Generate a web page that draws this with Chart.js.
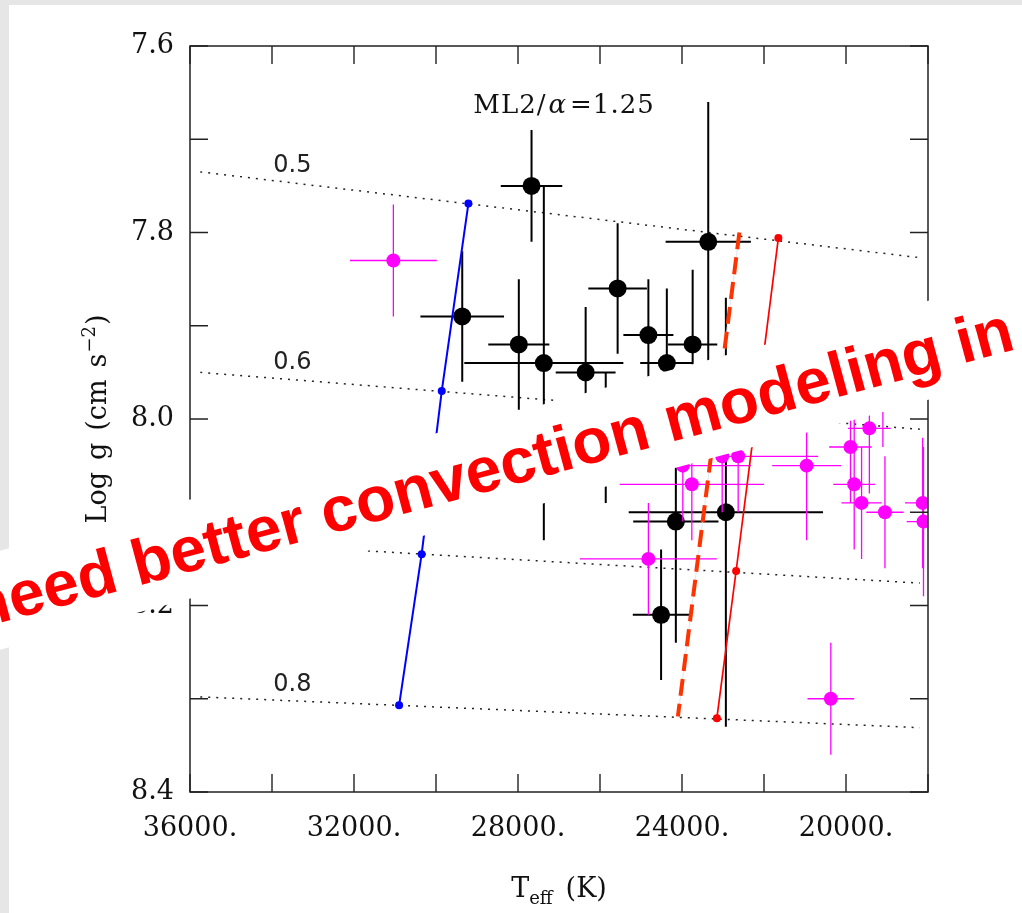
<!DOCTYPE html>
<html>
<head>
<meta charset="utf-8">
<title>Log g vs Teff</title>
<script src="https://cdn.jsdelivr.net/npm/chart.js@4.4.0/dist/chart.umd.min.js"></script>
<style>
  html, body { margin: 0; padding: 0; background: #e6e6e6; overflow: hidden; }
  #page { position: absolute; left: 9px; top: 5px; right: 0; bottom: 0; background: #ffffff; }
  #wrap { position: absolute; left: 0; top: 0; width: 1022px; height: 913px; }
  canvas { display: block; }
</style>
</head>
<body>
<div id="page"></div>
<div id="wrap"><canvas id="c" width="1022" height="913"></canvas></div>
<script>
// ---------- axis ticks ----------
const xTickValues = [36000, 32000, 28000, 24000, 20000];
const xTickLabels = ['36000.', '32000.', '28000.', '24000.', '20000.'];
const yTickValues = [7.6, 7.8, 8.0, 8.2, 8.4];
const yTickLabels = ['7.6', '7.8', '8.0', '8.2', '8.4'];

// ---------- observed stars (black) ----------
const blackTeff    = [27670, 29360, 27980, 27370, 26350, 25860, 25570, 24820, 24370, 23740, 23360, 24150, 22930, 24510];
const blackTeffErr = [750, 1020, 745, 1940, 730, 750, 715, 610, 650, 600, 1040, 1040, 2370, 690];
const blackLogg    = [7.75, 7.89, 7.92, 7.94, 7.95, 8.02, 7.86, 7.91, 7.94, 7.92, 7.81, 8.11, 8.10, 8.21];
const blackLoggErr = [0.06, 0.07, 0.07, 0.19, 0.07, 0.07, 0.07, 0.06, 0.08, 0.08, 0.15, 0.13, 0.23, 0.07];

// ---------- comparison stars (magenta) ----------
const magTeff    = [31040, 24820, 23760, 23980, 23020, 22630, 20960, 19890, 19430, 19800, 19620, 19050, 18130, 18110, 20370, 19100];
const magTeffErr = [1060, 1670, 1760, 1660, 1100, 1950, 840, 520, 520, 510, 490, 455, 430, 410, 570, 500];
const magLogg    = [7.83, 8.15, 8.07, 8.05, 8.04, 8.04, 8.05, 8.03, 8.01, 8.07, 8.09, 8.10, 8.09, 8.11, 8.30, 7.97];
const magLoggErr = [0.06, 0.06, 0.06, 0.06, 0.06, 0.06, 0.08, 0.06, 0.07, 0.07, 0.06, 0.06, 0.07, 0.08, 0.06, 0.06];

// ---------- instability strip edges ----------
const blueEdgeTeff = [29210, 29860, 30350, 30900];
const blueEdgeLogg = [7.769, 7.970, 8.145, 8.307];
const redEdgeTeff  = [21650, 22200, 22680, 23150];
const redEdgeLogg  = [7.806, 7.997, 8.163, 8.321];
const dashEdgeTeff = [22600, 24100];
const dashEdgeLogg = [7.800, 8.319];

// ---------- constant-mass tracks ----------
const trackMasses = ['0.5', '0.6', '0.7', '0.8'];
const trackTeff   = [35750, 18200];
const track05Logg = [7.735, 7.827];
const track06Logg = [7.950, 8.011];
const track07Logg = [8.131, 8.176];
const track08Logg = [8.298, 8.331];
const trackLabelTeff = 33970;

// ---------- text ----------
const modelNote = ['ML2/', 'α', '=1.25'];
const xTitle = ['T', 'eff', '(K)'];
const yTitle = ['Log', 'g', '(cm', 's', '−2', ')'];
const bannerText = 'need better convection modeling in';

// ---------- helpers ----------
const pts = (xs, ys) => xs.map((x, i) => ({ x: x, y: ys[i] }));
const SERIF = '"DejaVu Serif", "Liberation Serif", serif';
const SANS = '"DejaVu Sans", "Liberation Sans", sans-serif';

const trackSets = [track05Logg, track06Logg, track07Logg, track08Logg].map((lg, i) => ({
  label: 'M = ' + trackMasses[i],
  data: pts(trackTeff, lg),
  showLine: true,
  borderColor: '#222',
  borderWidth: 1.5,
  borderDash: [2, 6],
  pointRadius: 0,
  order: 10
}));

const datasets = [
  ...trackSets,
  {
    label: 'ZZ Ceti sample',
    data: pts(blackTeff, blackLogg),
    teffErr: blackTeffErr, loggErr: blackLoggErr, barColor: '#000', barWidth: 2,
    pointRadius: 9, pointBackgroundColor: '#000', pointBorderWidth: 0,
    showLine: false, order: 6
  },
  {
    label: 'Comparison stars',
    data: pts(magTeff, magLogg),
    teffErr: magTeffErr, loggErr: magLoggErr, barColor: '#ff00ff', barWidth: 1.3,
    pointRadius: 7, pointBackgroundColor: '#ff00ff', pointBorderWidth: 0,
    showLine: false, order: 5
  },
  {
    label: 'Blue edge',
    data: pts(blueEdgeTeff, blueEdgeLogg),
    showLine: true, borderColor: '#0000ff', borderWidth: 2,
    pointRadius: 4, pointBackgroundColor: '#0000ff', pointBorderWidth: 0,
    order: 4
  },
  {
    label: 'Red edge',
    data: pts(redEdgeTeff, redEdgeLogg),
    showLine: true, borderColor: '#ff0000', borderWidth: 1.7,
    pointRadius: 4, pointBackgroundColor: '#ff0000', pointBorderWidth: 0,
    order: 3
  },
  {
    label: 'Empirical red edge (guide)',
    data: pts(dashEdgeTeff, dashEdgeLogg),
    showLine: true, borderColor: '#e2e9f2', borderWidth: 1.2,
    pointRadius: 0, order: 2.5
  },
  {
    label: 'Empirical red edge',
    data: pts(dashEdgeTeff, dashEdgeLogg),
    showLine: true, borderColor: '#ff3300', borderWidth: 4, borderDash: [17, 8],
    pointRadius: 0, order: 2
  }
];

// error bars drawn just below each dataset's symbols
const errorBars = {
  id: 'errorBars',
  beforeDatasetDraw(chart, args) {
    const ds = chart.data.datasets[args.index];
    if (!ds.teffErr) return;
    const { ctx, chartArea: a, scales: { x, y } } = chart;
    ctx.save();
    ctx.beginPath();
    ctx.rect(a.left, a.top, a.right - a.left, a.bottom - a.top);
    ctx.clip();
    ctx.strokeStyle = ds.barColor;
    ctx.lineWidth = ds.barWidth;
    ctx.beginPath();
    ds.data.forEach((p, i) => {
      const cx = x.getPixelForValue(p.x), cy = y.getPixelForValue(p.y);
      ctx.moveTo(x.getPixelForValue(p.x + ds.teffErr[i]), cy);
      ctx.lineTo(x.getPixelForValue(p.x - ds.teffErr[i]), cy);
      ctx.moveTo(cx, y.getPixelForValue(p.y - ds.loggErr[i]));
      ctx.lineTo(cx, y.getPixelForValue(p.y + ds.loggErr[i]));
    });
    ctx.stroke();
    ctx.restore();
  }
};

// frame with inward ticks on all four sides, plus in-plot labels
const frameAndLabels = {
  id: 'frameAndLabels',
  afterDatasetsDraw(chart) {
    const { ctx, chartArea: a, scales: { x, y } } = chart;
    ctx.save();
    ctx.strokeStyle = '#222';
    ctx.lineWidth = 1.5;
    ctx.strokeRect(a.left, a.top, a.right - a.left, a.bottom - a.top);
    ctx.lineWidth = 1.4;
    ctx.beginPath();
    const L = 18;
    x.ticks.forEach(t => {
      const p = x.getPixelForValue(t.value);
      ctx.moveTo(p, a.bottom); ctx.lineTo(p, a.bottom - L);
      ctx.moveTo(p, a.top); ctx.lineTo(p, a.top + L);
    });
    y.ticks.forEach(t => {
      const p = y.getPixelForValue(t.value);
      ctx.moveTo(a.left, p); ctx.lineTo(a.left + L, p);
      ctx.moveTo(a.right, p); ctx.lineTo(a.right - L, p);
    });
    ctx.stroke();

    // mass labels above each track
    ctx.fillStyle = '#222';
    ctx.font = '24px ' + SANS;
    ctx.textBaseline = 'alphabetic';
    ctx.textAlign = 'left';
    const x0 = x.getPixelForValue(trackTeff[0]), x1 = x.getPixelForValue(trackTeff[1]);
    const lx = x.getPixelForValue(trackLabelTeff);
    [track05Logg, track06Logg, track07Logg, track08Logg].forEach((lg, i) => {
      const y0 = y.getPixelForValue(lg[0]), y1 = y.getPixelForValue(lg[1]);
      const ly = y0 + (y1 - y0) * (lx - x0) / (x1 - x0);
      ctx.fillText(trackMasses[i], lx, ly - 9);
    });

    // model annotation
    let nx = x.getPixelForValue(29090);
    const ny = y.getPixelForValue(7.6715);
    ctx.fillStyle = '#111';
    ctx.letterSpacing = '1px';
    ctx.font = '26px ' + SERIF;
    ctx.fillText(modelNote[0], nx, ny);
    nx += ctx.measureText(modelNote[0]).width + 2;
    ctx.font = 'italic 26px ' + SERIF;
    ctx.fillText(modelNote[1], nx, ny);
    nx += ctx.measureText(modelNote[1]).width + 3;
    ctx.font = '26px ' + SERIF;
    ctx.fillText(modelNote[2], nx, ny);
    ctx.letterSpacing = '0px';
    ctx.restore();
  },
  afterDraw(chart) {
    const { ctx, chartArea: a } = chart;
    ctx.save();
    ctx.fillStyle = '#111';
    ctx.textBaseline = 'alphabetic';
    ctx.textAlign = 'left';

    // x-axis title: T_eff (K)
    const big = '27px ' + SERIF, small = '18px ' + SERIF;
    ctx.font = big; const wT = ctx.measureText(xTitle[0]).width;
    ctx.font = small; const wE = ctx.measureText(xTitle[1]).width;
    ctx.font = big; const wK = ctx.measureText(xTitle[2]).width;
    const gap = 13;
    let tx = (a.left + a.right) / 2 - (wT + wE + gap + wK) / 2;
    const tb = 897;
    ctx.font = big; ctx.fillText(xTitle[0], tx, tb); tx += wT;
    ctx.font = small; ctx.fillText(xTitle[1], tx, tb + 7); tx += wE + gap;
    ctx.font = big; ctx.fillText(xTitle[2], tx, tb);

    // y-axis title: Log g (cm s^-2), rotated
    ctx.translate(106, (a.top + a.bottom) / 2);
    ctx.rotate(-Math.PI / 2);
    const parts = [
      { t: yTitle[0], f: big, dy: 0, after: 12 },
      { t: yTitle[1], f: big, dy: 0, after: 12 },
      { t: yTitle[2], f: big, dy: 0, after: 12 },
      { t: yTitle[3], f: big, dy: 0, after: 1 },
      { t: yTitle[4], f: small, dy: -11, after: 1 },
      { t: yTitle[5], f: big, dy: 0, after: 0 }
    ];
    let total = 0;
    parts.forEach(p => { ctx.font = p.f; p.w = ctx.measureText(p.t).width; total += p.w + p.after; });
    let yx = -total / 2;
    parts.forEach(p => { ctx.font = p.f; ctx.fillText(p.t, yx, p.dy); yx += p.w + p.after; });
    ctx.restore();

    // banner laid across the figure on a white strip
    ctx.save();
    ctx.translate(-23.5, 629.1);
    ctx.rotate(-15.07 * Math.PI / 180);
    ctx.font = 'bold 64px "Liberation Sans", Arial, sans-serif';
    const bw = ctx.measureText(bannerText).width;
    ctx.fillStyle = '#ffffff';
    ctx.fillRect(-90, -69.5, bw + 160, 95.5);
    ctx.fillStyle = '#ff0000';
    ctx.textBaseline = 'alphabetic';
    ctx.fillText(bannerText, 0, 0);
    ctx.restore();
  }
};

const near = (v, list) => list.findIndex(t => Math.abs(t - v) < 1e-6);

new Chart(document.getElementById('c'), {
  type: 'scatter',
  data: { datasets: datasets },
  options: {
    responsive: false,
    animation: false,
    devicePixelRatio: 1,
    layout: { padding: { top: 46, right: 94, bottom: 0, left: 0 } },
    plugins: { legend: { display: false }, tooltip: { enabled: false } },
    scales: {
      x: {
        type: 'linear', reverse: true, min: 18000, max: 36000,
        grid: { display: false, drawTicks: false },
        border: { display: false },
        afterBuildTicks: s => { s.ticks = []; for (let v = 18000; v <= 36000; v += 2000) s.ticks.push({ value: v }); },
        afterFit: s => { s.height = 121; },
        ticks: {
          autoSkip: false, maxRotation: 0, padding: 21, color: '#111',
          font: { family: SERIF, size: 27 },
          callback: v => { const i = near(v, xTickValues); return i >= 0 ? xTickLabels[i] : ''; }
        }
      },
      y: {
        type: 'linear', reverse: true, min: 7.6, max: 8.4,
        grid: { display: false, drawTicks: false },
        border: { display: false },
        afterBuildTicks: s => { s.ticks = []; for (let k = 0; k <= 8; k++) s.ticks.push({ value: +(7.6 + k * 0.1).toFixed(1) }); },
        afterFit: s => { s.width = 190; },
        ticks: {
          autoSkip: false, padding: 16, color: '#111',
          font: { family: SERIF, size: 27 },
          callback: v => { const i = near(v, yTickValues); return i >= 0 ? yTickLabels[i] : ''; }
        }
      }
    }
  },
  plugins: [errorBars, frameAndLabels]
});
</script>
</body>
</html>
